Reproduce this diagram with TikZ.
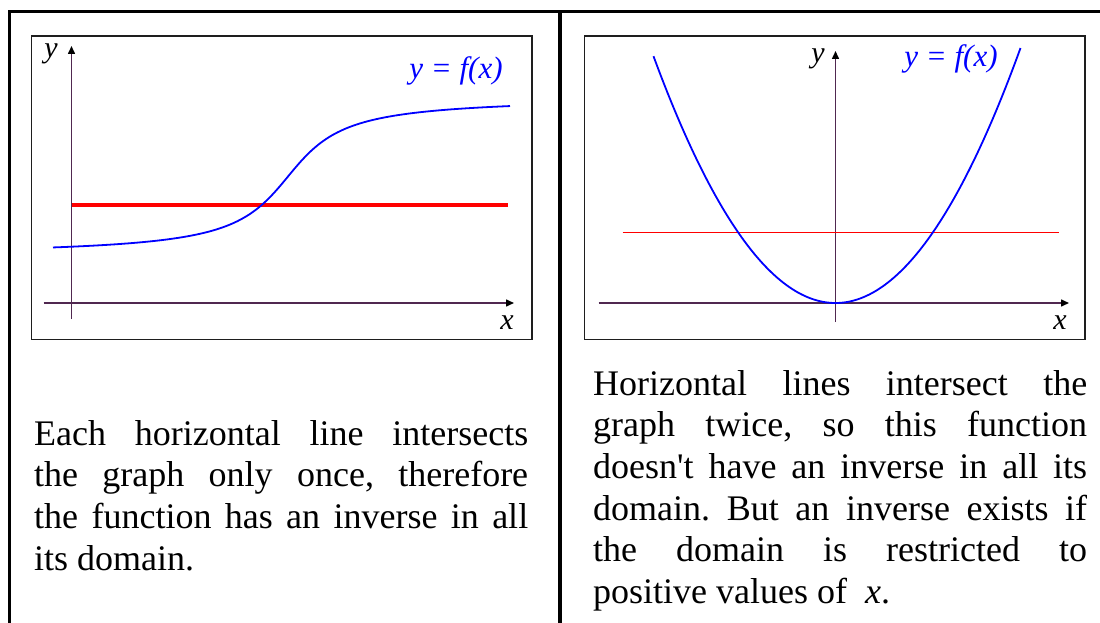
\documentclass[tikz,border=0pt]{standalone}
\usepackage{fontspec}
\setmainfont{Liberation Serif}
\usetikzlibrary{arrows.meta}
\definecolor{axiscol}{RGB}{80,40,80}
\definecolor{boxcol}{RGB}{30,30,30}
\frenchspacing
\begin{document}
\begin{tikzpicture}[x=1pt,y=-1pt,
  frame/.style={line width=3.5pt,black},
  plotbox/.style={draw=boxcol,line width=1.6pt},
  axis/.style={axiscol,line width=1.5pt,-{Triangle[length=8pt,width=7pt,color=black]}},
  curve/.style={blue,line width=1.8pt,line join=round},
  hline/.style={red},
  lbl/.style={inner sep=0pt,font=\fontsize{30}{34}\selectfont\itshape},
  flbl/.style={inner sep=0pt,text=blue,font=\fontsize{31}{34}\selectfont\itshape},
  para/.style={inner sep=0pt,anchor=base west,font=\fontsize{36}{41.7}\selectfont}
]
\useasboundingbox (0,0) rectangle (1100,623);
\fill[white] (0,0) rectangle (1100,623);
% outer frame
\coordinate (fbl) at (9.5,630);
\coordinate (ftl) at (9.5,11.5);
\coordinate (ftr) at (1105,11.5);
\coordinate (dt) at (560,11.5);
\coordinate (db) at (560,630);
\draw[frame] (fbl) -- (ftl) -- (ftr);
\draw[frame] (dt) -- (db);
% plot boxes
\node[plotbox,inner sep=0pt,minimum width=500.5pt,minimum height=303.5pt,anchor=north west] (boxL) at (30.5,35) {};
\node[plotbox,inner sep=0pt,minimum width=500.5pt,minimum height=303.5pt,anchor=north west] (boxR) at (583.5,35) {};

% ---------- left panel ----------
\coordinate (Lx0) at (43.5,303);
\coordinate (Lx1) at (514,303);
\coordinate (Ly0) at (71.5,319);
\coordinate (Ly1) at (71.5,46);
\draw[axis] (Lx0) -- (Lx1);
\draw[axis] (Ly0) -- (Ly1);
\coordinate (Lr0) at (71.5,205);
\coordinate (Lr1) at (508,205);
\draw[hline,line width=3.5pt] (Lr0) -- (Lr1);
\draw[curve] plot[domain=53:510,samples=120,smooth] (\x,{176.5-50.9*rad(atan((\x-288)/42))});
\node[lbl,anchor=base] (Lylab) at (51,58) {y};
\node[lbl,anchor=base] (Lxlab) at (507,329) {x};
\node[flbl,anchor=base] (Lflab) at (456,79) {y = f(x)};

% ---------- right panel ----------
\coordinate (Rx0) at (598.5,303);
\coordinate (Rx1) at (1069,303);
\coordinate (Ry0) at (835.5,322);
\coordinate (Ry1) at (835.5,51);
\draw[axis] (Rx0) -- (Rx1);
\draw[axis] (Ry0) -- (Ry1);
\coordinate (Rr0) at (622.7,232.3);
\coordinate (Rr1) at (1058.6,232.3);
\draw[hline,line width=1.4pt] (Rr0) -- (Rr1);
\draw[curve] plot[domain=-182:185,samples=120,smooth] ({835.5+\x},{303-0.745*(\x/10)^2});
\node[lbl,anchor=base] (Rylab) at (818,63) {y};
\node[lbl,anchor=base] (Rxlab) at (1060,329) {x};
\node[flbl,anchor=base] (Rflab) at (951,67) {y = f(x)};

% ---------- texts ----------
\node[para] (textL) at (34,445) {\vtop{\hsize=494pt\baselineskip=41.7pt
\hbox to\hsize{Each horizontal line intersects}
\hbox to\hsize{the graph only once, therefore}
\hbox to\hsize{the function has an inverse in all}
\hbox to\hsize{its domain.\hfil}}};
\node[para] (textR) at (593,395) {\vtop{\hsize=494pt\baselineskip=41.7pt
\hbox to\hsize{Horizontal lines intersect the}
\hbox to\hsize{graph twice, so this function}
\hbox to\hsize{doesn\textquotesingle t have an inverse in all its}
\hbox to\hsize{domain. But an inverse exists if}
\hbox to\hsize{the domain is restricted to}
\hbox to\hsize{positive values of\ \ \textit{x}.\hfil}}};
\end{tikzpicture}
\end{document}
